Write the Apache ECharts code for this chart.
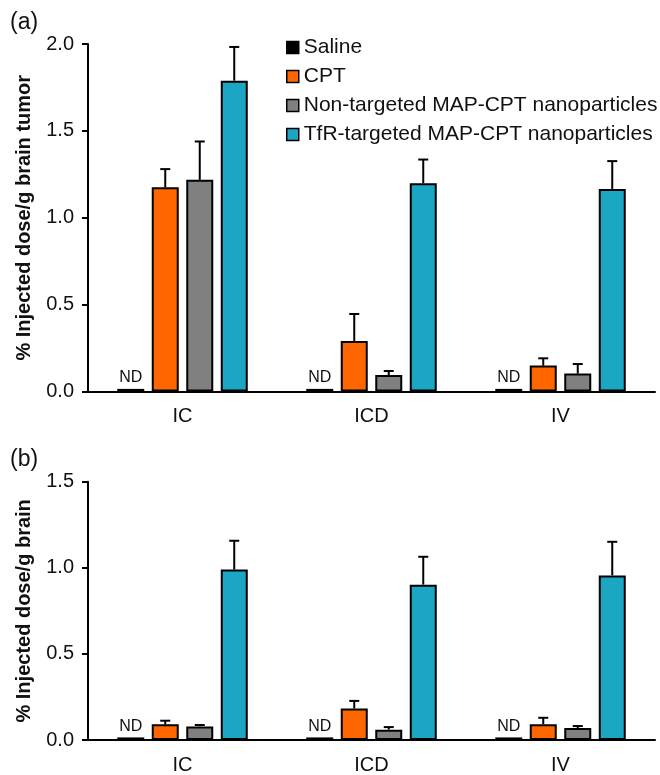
<!DOCTYPE html>
<html>
<head>
<meta charset="utf-8">
<script src="https://cdn.jsdelivr.net/npm/echarts@6/dist/echarts.min.js"></script>
<style>
  html, body { margin: 0; padding: 0; background: #fff; }
  #chart { width: 660px; height: 775px; }
</style>
</head>
<body>
<div id="chart"></div>
<script>
// ---------- data ----------
const categories = ['IC', 'ICD', 'IV'];
const seriesNames = ['Saline', 'CPT', 'Non-targeted MAP-CPT nanoparticles', 'TfR-targeted MAP-CPT nanoparticles'];
const ndLabel = 'ND';

// (a) % injected dose / g brain tumor
const tumorSaline = [0.015, 0.015, 0.015];
const tumorCPT = [1.176, 0.291, 0.149];
const tumorNonTargeted = [1.218, 0.095, 0.103];
const tumorTfR = [1.789, 1.199, 1.166];
const tumorCPTErr = [0.104, 0.155, 0.042];
const tumorNonTargetedErr = [0.221, 0.023, 0.055];
const tumorTfRErr = [0.194, 0.136, 0.160];

// (b) % injected dose / g brain
const brainSaline = [0.015, 0.015, 0.015];
const brainCPT = [0.091, 0.183, 0.091];
const brainNonTargeted = [0.079, 0.060, 0.069];
const brainTfR = [0.990, 0.902, 0.956];
const brainCPTErr = [0.021, 0.044, 0.038];
const brainNonTargetedErr = [0.008, 0.015, 0.012];
const brainTfRErr = [0.167, 0.162, 0.195];

const tumorAxis = { min: 0, max: 2.0, interval: 0.5, name: '% Injected dose/g brain tumor' };
const brainAxis = { min: 0, max: 1.5, interval: 0.5, name: '% Injected dose/g brain' };

// ---------- style ----------
const colors = ['#000000', '#FF6600', '#808080', '#1BA6C4'];
const FONT = 'Liberation Sans, Arial, sans-serif';
const TXT = '#111111';
const BAR_W = 27;
const BAR_GAP = 7.5;
const offsets = [-1.5, -0.5, 0.5, 1.5].map(k => k * (BAR_W + BAR_GAP));

function barSeries(name, idx, values, gridIdx) {
  const s = {
    name: name,
    type: 'bar',
    xAxisIndex: gridIdx,
    yAxisIndex: gridIdx,
    data: values,
    barWidth: BAR_W,
    barGap: (BAR_GAP / BAR_W * 100).toFixed(1) + '%',
    itemStyle: { color: colors[idx], borderColor: '#000', borderWidth: 2 },
    emphasis: { disabled: true },
    z: 2
  };
  if (idx === 0) {
    s.label = {
      show: true, position: 'top', distance: 3, formatter: ndLabel,
      fontSize: 16, fontFamily: FONT, color: TXT
    };
  }
  return s;
}

function errSeries(idx, values, errs, gridIdx) {
  return {
    type: 'custom',
    name: 'err' + gridIdx + '_' + idx,
    xAxisIndex: gridIdx,
    yAxisIndex: gridIdx,
    data: values.map((v, i) => [i, v, v + errs[i]]),
    encode: { x: 0, y: [1, 2] },
    z: 5,
    silent: true,
    renderItem: function (params, api) {
      const c = api.coord([api.value(0), api.value(1)]);
      const t = api.coord([api.value(0), api.value(2)]);
      const x = c[0] + offsets[idx];
      const style = { stroke: '#000', lineWidth: 2 };
      return {
        type: 'group',
        children: [
          { type: 'line', shape: { x1: x, y1: c[1], x2: x, y2: t[1] }, style: style },
          { type: 'line', shape: { x1: x - 5, y1: t[1], x2: x + 5, y2: t[1] }, style: style }
        ]
      };
    }
  };
}

function xAxisDef(gridIdx) {
  return {
    type: 'category',
    gridIndex: gridIdx,
    data: categories,
    axisLine: { lineStyle: { color: '#000', width: 2 } },
    axisTick: { show: false },
    axisLabel: { fontSize: 20, fontFamily: FONT, color: TXT, margin: 15 }
  };
}

function yAxisDef(gridIdx, ax) {
  return {
    type: 'value',
    gridIndex: gridIdx,
    min: ax.min, max: ax.max, interval: ax.interval,
    name: ax.name,
    nameLocation: 'middle',
    nameGap: 54,
    nameRotate: 90,
    nameTextStyle: { fontSize: 20, fontWeight: 'bold', fontFamily: FONT, color: TXT },
    axisLine: { show: true, lineStyle: { color: '#000', width: 2 } },
    axisTick: { show: true, length: 6, lineStyle: { color: '#000', width: 2 } },
    axisLabel: { fontSize: 20, fontFamily: FONT, color: TXT, margin: 14,
      formatter: v => v.toFixed(1) },
    splitLine: { show: false }
  };
}

const chart = echarts.init(document.getElementById('chart'), null, { renderer: 'canvas' });
chart.setOption({
  animation: false,
  backgroundColor: '#fff',
  color: colors,
  textStyle: { fontFamily: FONT },
  grid: [
    { left: 88, top: 44, width: 567, height: 347.5 },
    { left: 88, top: 481.7, width: 567, height: 260 }
  ],
  legend: {
    data: seriesNames,
    orient: 'vertical',
    left: 281,
    top: 32,
    icon: 'rect',
    itemWidth: 12,
    itemHeight: 12,
    itemGap: 8,
    selectedMode: false,
    itemStyle: { borderColor: '#000', borderWidth: 1.5 },
    textStyle: { fontSize: 21, fontFamily: FONT, color: TXT, lineHeight: 21 }
  },
  xAxis: [xAxisDef(0), xAxisDef(1)],
  yAxis: [yAxisDef(0, tumorAxis), yAxisDef(1, brainAxis)],
  graphic: [
    { type: 'text', left: 10, top: 11, style: { text: '(a)', font: '23px ' + FONT, fill: TXT } },
    { type: 'text', left: 10, top: 448, style: { text: '(b)', font: '23px ' + FONT, fill: TXT } }
  ],
  series: [
    barSeries(seriesNames[0], 0, tumorSaline, 0),
    barSeries(seriesNames[1], 1, tumorCPT, 0),
    barSeries(seriesNames[2], 2, tumorNonTargeted, 0),
    barSeries(seriesNames[3], 3, tumorTfR, 0),
    errSeries(1, tumorCPT, tumorCPTErr, 0),
    errSeries(2, tumorNonTargeted, tumorNonTargetedErr, 0),
    errSeries(3, tumorTfR, tumorTfRErr, 0),
    barSeries(seriesNames[0], 0, brainSaline, 1),
    barSeries(seriesNames[1], 1, brainCPT, 1),
    barSeries(seriesNames[2], 2, brainNonTargeted, 1),
    barSeries(seriesNames[3], 3, brainTfR, 1),
    errSeries(1, brainCPT, brainCPTErr, 1),
    errSeries(2, brainNonTargeted, brainNonTargetedErr, 1),
    errSeries(3, brainTfR, brainTfRErr, 1)
  ]
});
</script>
</body>
</html>
